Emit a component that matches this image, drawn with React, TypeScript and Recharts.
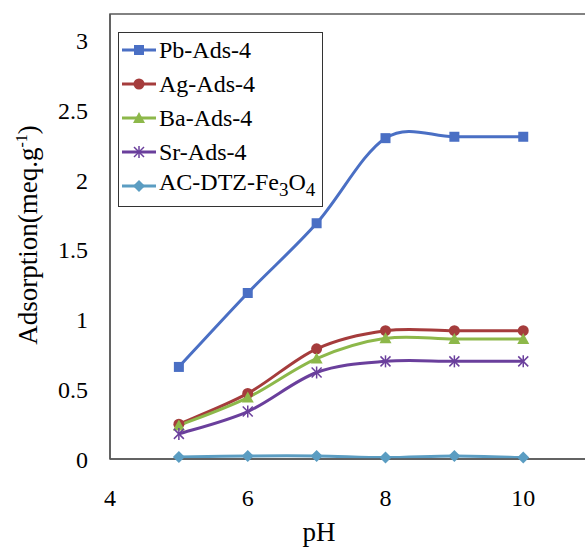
import React from "react"
import { LineChart, Line, XAxis, YAxis, ReferenceArea } from "recharts"

const phValues = [5, 6, 7, 8, 9, 10]
const pbAds = [0.66, 1.19, 1.69, 2.3, 2.31, 2.31]
const agAds = [0.25, 0.47, 0.79, 0.92, 0.92, 0.92]
const baAds = [0.24, 0.44, 0.72, 0.865, 0.86, 0.86]
const srAds = [0.18, 0.34, 0.62, 0.7, 0.7, 0.7]
const acAds = [0.015, 0.022, 0.022, 0.01, 0.022, 0.01]

const xTicks = [4, 6, 8, 10]
const yTicks = [0, 0.5, 1, 1.5, 2, 2.5, 3]

const data = phValues.map((ph, i) => ({
  ph,
  pb: pbAds[i],
  ag: agAds[i],
  ba: baAds[i],
  sr: srAds[i],
  ac: acAds[i],
}))

type Shape = "square" | "circle" | "triangle" | "star" | "diamond"

const series: { key: string; name: string; color: string; shape: Shape }[] = [
  { key: "pb", name: "Pb-Ads-4", color: "#4A6FC4", shape: "square" },
  { key: "ag", name: "Ag-Ads-4", color: "#A53C3C", shape: "circle" },
  { key: "ba", name: "Ba-Ads-4", color: "#8DB84A", shape: "triangle" },
  { key: "sr", name: "Sr-Ads-4", color: "#6A3F9C", shape: "star" },
  { key: "ac", name: "AC-DTZ-Fe3O4", color: "#5B9DC2", shape: "diamond" },
]

const FONT = "'Liberation Serif', 'Times New Roman', serif"
const AXIS = "#595959"

// Excel-like smoothed line (Catmull-Rom through the points)
const smoothCurve = (context: any) => {
  let pts: [number, number][] = []
  return {
    areaStart() {},
    areaEnd() {},
    lineStart() {
      pts = []
    },
    point(x: number, y: number) {
      pts.push([+x, +y])
    },
    lineEnd() {
      if (!pts.length) return
      context.moveTo(pts[0][0], pts[0][1])
      for (let i = 0; i < pts.length - 1; i++) {
        const p0 = pts[Math.max(i - 1, 0)]
        const p1 = pts[i]
        const p2 = pts[i + 1]
        const p3 = pts[Math.min(i + 2, pts.length - 1)]
        context.bezierCurveTo(
          p1[0] + (p2[0] - p0[0]) / 6,
          p1[1] + (p2[1] - p0[1]) / 6,
          p2[0] - (p3[0] - p1[0]) / 6,
          p2[1] - (p3[1] - p1[1]) / 6,
          p2[0],
          p2[1]
        )
      }
    },
  }
}

function Marker({ shape, cx, cy, color }: { shape: Shape; cx: number; cy: number; color: string }) {
  switch (shape) {
    case "square":
      return <rect x={cx - 5} y={cy - 5} width={10} height={10} fill={color} />
    case "circle":
      return <circle cx={cx} cy={cy} r={5.5} fill={color} />
    case "triangle":
      return <polygon points={`${cx},${cy - 6} ${cx + 6},${cy + 5} ${cx - 6},${cy + 5}`} fill={color} />
    case "star":
      return (
        <g stroke={color} strokeWidth={1.5}>
          <line x1={cx - 5} y1={cy - 5} x2={cx + 5} y2={cy + 5} />
          <line x1={cx - 5} y1={cy + 5} x2={cx + 5} y2={cy - 5} />
          <line x1={cx} y1={cy - 6} x2={cx} y2={cy + 6} />
        </g>
      )
    default:
      return <polygon points={`${cx},${cy - 6} ${cx + 6},${cy} ${cx},${cy + 6} ${cx - 6},${cy}`} fill={color} />
  }
}

function legendLabel(name: string) {
  if (name === "AC-DTZ-Fe3O4") {
    const sub = { fontSize: 19, verticalAlign: -6 }
    return (
      <span>
        AC-DTZ-Fe<span style={sub}>3</span>O<span style={sub}>4</span>
      </span>
    )
  }
  return <span>{name}</span>
}

// legend box sits inside the plot, top left
function ChartLegend() {
  return (
    <div
      style={{
        position: "absolute",
        left: 118,
        top: 32,
        width: 201,
        border: "1.5px solid #333",
        background: "#fff",
        padding: "0 0 3px 2px",
        fontFamily: FONT,
        fontSize: 24,
        lineHeight: "34px",
        color: "#000",
      }}
    >
      {series.map((s) => (
        <div key={s.key} style={{ height: 34, display: "flex", alignItems: "center", whiteSpace: "nowrap" }}>
          <svg width={36} height={20} style={{ marginRight: 2, flex: "none" }}>
            <line x1={1} y1={10} x2={35} y2={10} stroke={s.color} strokeWidth={3} />
            <Marker shape={s.shape} cx={18} cy={10} color={s.color} />
          </svg>
          {legendLabel(s.name)}
        </div>
      ))}
    </div>
  )
}

export default function App() {
  return (
    <div
      style={{
        position: "absolute",
        left: 0,
        top: 0,
        width: 585,
        height: 549,
        overflow: "hidden",
        background: "#fff",
      }}
    >
      <LineChart width={680} height={549} data={data} margin={{ top: 14, right: 19, bottom: 0, left: 0 }}>
        <ReferenceArea x1={4} x2={12} y1={0} y2={3.19} fill="none" stroke={AXIS} strokeWidth={1.5} />
        <XAxis
          type="number"
          dataKey="ph"
          domain={[4, 12]}
          ticks={xTicks}
          tickLine={false}
          axisLine={{ stroke: AXIS, strokeWidth: 1.5 }}
          height={90}
          tickMargin={24}
          tick={{ fontFamily: FONT, fontSize: 24, fill: "#000" }}
          label={{
            content: () => (
              <text x={319} y={541} textAnchor="middle" fontFamily={FONT} fontSize={27} fill="#000">
                pH
              </text>
            ),
          }}
        />
        <YAxis
          type="number"
          domain={[0, 3.19]}
          ticks={yTicks}
          tickLine={false}
          axisLine={{ stroke: AXIS, strokeWidth: 1.5 }}
          width={110}
          tickMargin={16}
          tick={{ fontFamily: FONT, fontSize: 24, fill: "#000" }}
          label={{
            content: () => (
              <text
                transform="translate(37,235) rotate(-90)"
                textAnchor="middle"
                fontFamily={FONT}
                fontSize={27}
                fill="#000"
              >
                Adsorption(meq.g
                <tspan dy={-10} fontSize={16}>
                  -1
                </tspan>
                <tspan dy={10}>)</tspan>
              </text>
            ),
          }}
        />
        {series.map((s) => (
          <Line
            key={s.key}
            dataKey={s.key}
            name={s.name}
            type={smoothCurve as any}
            stroke={s.color}
            strokeWidth={3}
            isAnimationActive={false}
            dot={(p: any) => <Marker key={p.key ?? p.index} shape={s.shape} cx={p.cx} cy={p.cy} color={s.color} />}
            activeDot={false}
          />
        ))}
      </LineChart>
      <ChartLegend />
    </div>
  )
}
